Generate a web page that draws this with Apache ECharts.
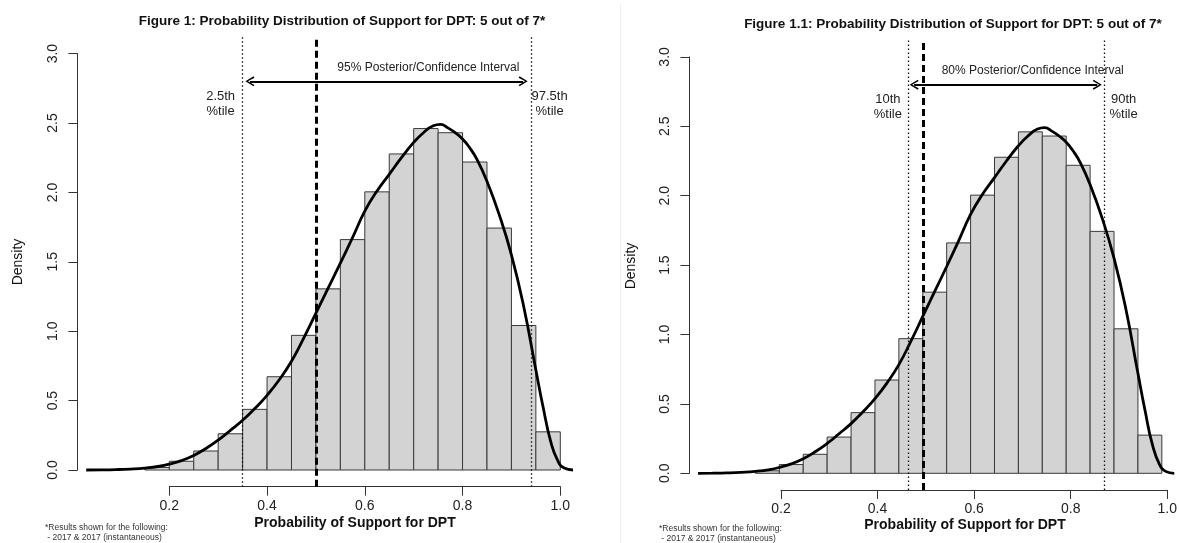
<!DOCTYPE html>
<html><head><meta charset="utf-8">
<script src="https://cdn.jsdelivr.net/npm/echarts@6/dist/echarts.min.js"></script>
<style>html,body{margin:0;padding:0;background:#fff}#c{width:1180px;height:543px}</style>
</head><body><div id="c"></div>
<script>
// ---------- data ----------
const binLeft   = [0.15, 0.20, 0.25, 0.30, 0.35, 0.40, 0.45, 0.50, 0.55, 0.60, 0.65, 0.70, 0.75, 0.80, 0.85, 0.90, 0.95];
const binHeight = [0.018, 0.063, 0.137, 0.261, 0.437, 0.672, 0.970, 1.305, 1.660, 2.004, 2.277, 2.460, 2.430, 2.219, 1.743, 1.041, 0.275];
const binWidth  = 0.05;
const densityX = [0.03, 0.06, 0.09, 0.12, 0.15, 0.18, 0.20, 0.225, 0.25, 0.275, 0.30, 0.325, 0.35, 0.375, 0.40, 0.425, 0.45, 0.475, 0.50, 0.525, 0.55, 0.575, 0.60, 0.625, 0.65, 0.675, 0.70, 0.72, 0.74, 0.755, 0.77, 0.785, 0.80, 0.815, 0.83, 0.85, 0.875, 0.90, 0.925, 0.95, 0.965, 0.98, 0.995, 1.008, 1.026];
const densityY = [0.000, 0.001, 0.003, 0.007, 0.014, 0.027, 0.042, 0.068, 0.105, 0.155, 0.215, 0.285, 0.358, 0.443, 0.538, 0.650, 0.783, 0.950, 1.130, 1.310, 1.490, 1.675, 1.865, 2.010, 2.130, 2.250, 2.360, 2.430, 2.480, 2.490, 2.465, 2.430, 2.385, 2.320, 2.235, 2.080, 1.840, 1.550, 1.180, 0.720, 0.450, 0.210, 0.065, 0.014, 0.000];
const xTicks = [0.2, 0.4, 0.6, 0.8, 1.0];
const xTickLabels = ['0.2', '0.4', '0.6', '0.8', '1.0'];
const yTickLabels = ['0.0', '0.5', '1.0', '1.5', '2.0', '2.5', '3.0'];
const panelTitles = ['Figure 1: Probability Distribution of Support for DPT: 5 out of 7*',
                     'Figure 1.1: Probability Distribution of Support for DPT: 5 out of 7*'];
const intervalTexts = ['95% Posterior/Confidence Interval', '80% Posterior/Confidence Interval'];
const lowTexts  = ['2.5th\n%tile', '10th\n%tile'];
const highTexts = ['97.5th\n%tile', '90th\n%tile'];
const lowPct    = [0.352, 0.474];
const medianVal = [0.5, 0.5];
const highPct   = [0.935, 0.877];
const arrowFrom = [0.365, 0.482];
const arrowTo   = [0.924, 0.865];
const xLabel = 'Probability of Support for DPT';
const yLabel = 'Density';
const noteLines = ['*Results shown for the following:', ' - 2017 & 2017 (instantaneous)'];

// ---------- layout (pixels) ----------
const FONT = 'Liberation Sans, Arial, Helvetica, sans-serif';
const xlim = [0.012, 1.038], ylim = [-0.12, 3.12];
const layout = [
  {x02: 169.3, ppu: 488.75, y0: 470.0, pyu: 138.8, titleX: 342, titleY: 21, xlabX: 355, xlabY: 523, ylabX: 18, ylabY: 262, noteX: 45, noteY: 528},
  {x02: 781.0, ppu: 487.0,  y0: 473.3, pyu: 138.8, titleX: 953, titleY: 24, xlabX: 965, xlabY: 525, ylabX: 631, ylabY: 266, noteX: 659, noteY: 529}
];
const arrowPath = 'path://M5,0 L10,9 L8.6,10 L5,2.8 L1.4,10 L0,9 Z';

const grids = [], xAxes = [], yAxes = [], series = [], graphics = [];
const axisCol = '#333';
layout.forEach((L, p) => {
  const dl = L.x02 + (xlim[0] - 0.2) * L.ppu, dw = (xlim[1] - xlim[0]) * L.ppu;
  const dt = L.y0 - ylim[1] * L.pyu, dh = (ylim[1] - ylim[0]) * L.pyu;
  grids.push({left: dl, top: dt, width: dw, height: dh});
  grids.push({left: L.x02, top: dt, width: 0.8 * L.ppu, height: dh});
  grids.push({left: dl, top: L.y0 - 3 * L.pyu, width: dw, height: 3 * L.pyu});
  const g = 3 * p;
  xAxes.push({gridIndex: g, type: 'value', min: xlim[0], max: xlim[1], show: false});
  yAxes.push({gridIndex: g, type: 'value', min: ylim[0], max: ylim[1], show: false});
  xAxes.push({gridIndex: g + 1, type: 'value', min: xTicks[0], max: xTicks[xTicks.length - 1], interval: 0.2, position: 'bottom',
    axisLine: {show: true, lineStyle: {color: axisCol, width: 1}},
    axisTick: {show: true, length: 9, lineStyle: {color: axisCol, width: 1}},
    axisLabel: {show: true, margin: 12, fontSize: 14, color: '#222', fontFamily: FONT,
      formatter: v => xTickLabels[Math.round((v - 0.2) / 0.2)]},
    splitLine: {show: false}});
  yAxes.push({gridIndex: g + 1, type: 'value', min: 0, max: 1, show: false});
  xAxes.push({gridIndex: g + 2, type: 'value', min: 0, max: 1, show: false});
  yAxes.push({gridIndex: g + 2, type: 'value', min: 0, max: 3, interval: 0.5, position: 'left',
    axisLine: {show: true, lineStyle: {color: axisCol, width: 1}},
    axisTick: {show: true, length: 9, lineStyle: {color: axisCol, width: 1}},
    axisLabel: {show: true, rotate: 90, margin: 17, fontSize: 14, color: '#222', fontFamily: FONT,
      formatter: v => yTickLabels[Math.round(v / 0.5)]},
    splitLine: {show: false}});

  series.push({
    type: 'custom', xAxisIndex: g, yAxisIndex: g, z: 2, silent: true,
    data: binLeft.map((b, i) => [b, b + binWidth, binHeight[i]]),
    renderItem: (params, api) => {
      const a = api.coord([api.value(0), 0]);
      const b = api.coord([api.value(1), api.value(2)]);
      return {type: 'rect', shape: {x: a[0], y: b[1], width: b[0] - a[0], height: a[1] - b[1]},
        style: {fill: '#d3d3d3', stroke: '#3a3a3a', lineWidth: 1}};
    }
  });
  series.push({
    type: 'line', xAxisIndex: g, yAxisIndex: g, z: 3, silent: true,
    data: densityX.map((x, i) => [x, densityY[i]]),
    smooth: 0.5, showSymbol: false, symbol: 'none',
    lineStyle: {color: '#000', width: 2.8},
    markLine: {
      silent: true, symbol: ['none', 'none'], label: {show: false}, animation: false,
      data: [
        {xAxis: lowPct[p], lineStyle: {type: [1.5, 2.5], width: 1.3, color: '#111'}},
        {xAxis: medianVal[p], lineStyle: {type: [7, 4], width: 3, color: '#000'}},
        {xAxis: highPct[p], lineStyle: {type: [1.5, 2.5], width: 1.3, color: '#111'}},
        [{coord: [arrowFrom[p], 2.8], symbol: arrowPath, symbolSize: [10, 9], lineStyle: {type: 'solid', width: 2, color: '#000'}},
         {coord: [arrowTo[p], 2.8], symbol: arrowPath, symbolSize: [10, 9]}]
      ]
    },
    markPoint: {
      silent: true, symbol: 'circle', symbolSize: 1, itemStyle: {color: 'rgba(0,0,0,0)'}, animation: false,
      label: {show: true, position: 'inside', formatter: '{b}', color: '#222', fontFamily: FONT, fontSize: 13, lineHeight: 15},
      data: [
        {name: intervalTexts[p], coord: [0.73, 2.9], label: {fontSize: 12}},
        {name: lowTexts[p], coord: [lowPct[p] - 0.047, 2.64]},
        {name: highTexts[p], coord: [highPct[p] + 0.043, 2.64]}
      ]
    }
  });

  graphics.push({type: 'text', x: L.titleX, y: L.titleY, style: {text: panelTitles[p], font: 'bold 13.5px ' + FONT, fill: '#111', textAlign: 'center', textVerticalAlign: 'middle'}});
  graphics.push({type: 'text', x: L.xlabX, y: L.xlabY, style: {text: xLabel, font: 'bold 14px ' + FONT, fill: '#111', textAlign: 'center', textVerticalAlign: 'middle'}});
  graphics.push({type: 'text', x: L.ylabX, y: L.ylabY, rotation: Math.PI / 2, style: {text: yLabel, font: '14px ' + FONT, fill: '#111', textAlign: 'center', textVerticalAlign: 'middle'}});
  graphics.push({type: 'text', x: L.noteX, y: L.noteY, style: {text: noteLines[0], font: '8.5px ' + FONT, fill: '#333', textAlign: 'left', textVerticalAlign: 'middle'}});
  graphics.push({type: 'text', x: L.noteX, y: L.noteY + 10, style: {text: noteLines[1], font: '8.5px ' + FONT, fill: '#333', textAlign: 'left', textVerticalAlign: 'middle'}});
});
graphics.push({type: 'line', shape: {x1: 620.5, y1: 4, x2: 620.5, y2: 543}, style: {stroke: '#eeeeee', lineWidth: 1}});

const chart = echarts.init(document.getElementById('c'), null, {renderer: 'canvas'});
chart.setOption({
  animation: false,
  backgroundColor: '#fff',
  grid: grids, xAxis: xAxes, yAxis: yAxes, series: series, graphic: graphics
});
</script></body></html>
